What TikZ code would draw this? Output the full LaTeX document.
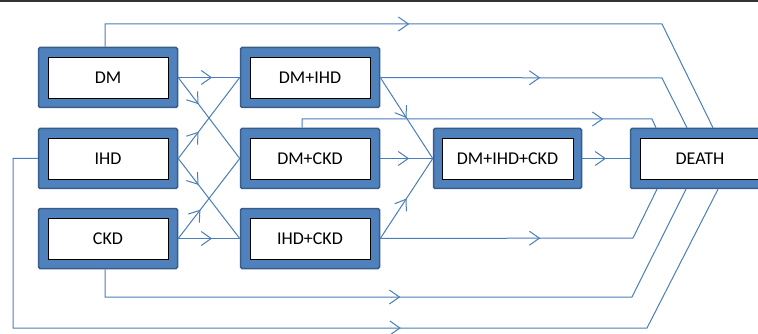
\documentclass[tikz,border=0pt]{standalone}
\usepackage{fontspec}
\setmainfont{Carlito}
\usetikzlibrary{arrows.meta,decorations.markings,calc}
\definecolor{boxblue}{RGB}{79,129,189}
\definecolor{boxedge}{RGB}{56,93,138}
\definecolor{linkblue}{RGB}{74,126,187}
\tikzset{
  outerbox/.style={rectangle, fill=boxblue, draw=boxedge, line width=1.5pt,
    rounded corners=1.5pt, minimum width=139pt, minimum height=60pt, inner sep=0pt},
  innerbox/.style={rectangle, fill=white, draw=black, line width=0.9pt,
    minimum width=120pt, minimum height=41pt, inner sep=0pt,
    font=\fontsize{18}{20}\selectfont},
  conn/.style={draw=linkblue, line width=1pt},
  marr/.style={postaction={decorate},
    decoration={markings, mark=at position #1 with
      {\arrow[linkblue]{Straight Barb[length=10pt,width=14pt]}}}}
}
\begin{document}
\begin{tikzpicture}[x=1pt,y=-1pt]
\clip (0,0) rectangle (758,334);
\fill[white] (0,0) rectangle (758,334);
\draw[line width=2pt, black!80] (0,1) -- (758,1);

% boxes
\node[outerbox] (dm) at (108,77.5) {};
\node[innerbox] at (dm) {DM};
\node[outerbox] (ihd) at (108,158.5) {};
\node[innerbox] at (ihd) {IHD};
\node[outerbox] (ckd) at (108,238.5) {};
\node[innerbox] at (ckd) {CKD};

\node[outerbox] (dmihd) at (310,77.5) {};
\node[innerbox] at (dmihd) {DM+IHD};
\node[outerbox] (dmckd) at (310,158.5) {};
\node[innerbox] at (dmckd) {DM+CKD};
\node[outerbox] (ihdckd) at (310,238.5) {};
\node[innerbox] at (ihdckd) {IHD+CKD};

\node[outerbox, minimum width=148pt] (all) at (507.5,158.5) {};
\node[innerbox, minimum width=131pt] at (all) {DM+IHD+CKD};

\node[outerbox] (death) at (700,158.5) {};
\node[innerbox] at (death) {DEATH};

% column 1 -> column 2
\draw[conn, marr=0.55] (dm.east) -- (dmihd.west);
\draw[conn, marr=0.33] (dm.east) -- (dmckd.west);
\draw[conn, marr=0.33] (ihd.east) -- (dmihd.west);
\draw[conn, marr=0.33] (ihd.east) -- (ihdckd.west);
\draw[conn, marr=0.36] (ckd.east) -- (dmckd.west);
\draw[conn, marr=0.55] (ckd.east) -- (ihdckd.west);

% column 2 -> DM+IHD+CKD
\draw[conn, marr=0.5] (dmihd.east) -- (all.west);
\draw[conn, marr=0.55] (dmckd.east) -- (all.west);
\draw[conn, marr=0.5] (ihdckd.east) -- (all.west);

% DM+IHD+CKD -> DEATH
\draw[conn, marr=0.5] (all.east) -- (death.west);

% routes to DEATH (top)
\draw[conn, marr=327pt] ([xshift=-3pt]dm.north) |- (662,24) -- ([xshift=13pt]death.north);
\draw[conn, marr=160pt] (dmihd.east) -- (662,78) -- ([xshift=-13pt]death.north);
\draw[conn, marr=310pt] ([xshift=-8pt]dmckd.north) |- (652,119) -- ([xshift=-44pt]death.north);

% routes to DEATH (bottom)
\draw[conn, marr=160pt] (ihdckd.east) -- (633,238) -- ([xshift=-43pt]death.south);
\draw[conn, marr=323pt] ([xshift=-3pt]ckd.south) |- (632,297) -- ([xshift=-14pt]death.south);
\draw[conn, marr=582pt] (ihd.west) -| (13,328) -- (647,328) -- ([xshift=18pt]death.south);
\end{tikzpicture}
\end{document}
